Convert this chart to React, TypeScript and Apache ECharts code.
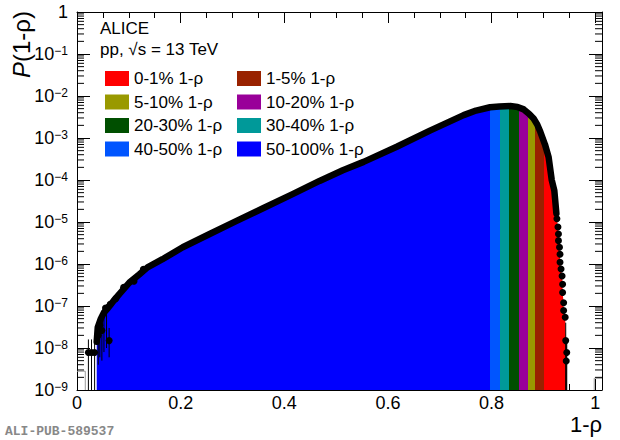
import React, { useEffect, useRef } from 'react';
import * as echarts from 'echarts';

// ---- data ----
// main body of the distribution (black band + filled histogram)
const bodyX = [0.038, 0.040, 0.046, 0.052, 0.059, 0.070, 0.082, 0.101, 0.120, 0.136, 0.165, 0.204, 0.255, 0.307, 0.358, 0.416, 0.468, 0.513, 0.553, 0.617, 0.681, 0.746, 0.770, 0.797, 0.815, 0.836, 0.850, 0.862, 0.872, 0.881, 0.888, 0.894, 0.903, 0.910, 0.916, 0.921, 0.925];
const bodyP = [1.4e-8, 3.1e-8, 5.0e-8, 7.0e-8, 8.7e-8, 1.3e-7, 1.95e-7, 3.6e-7, 5.6e-7, 8.3e-7, 1.3e-6, 2.5e-6, 5.1e-6, 1.05e-5, 2.1e-5, 4.6e-5, 9.5e-5, 1.7e-4, 2.7e-4, 6.2e-4, 1.5e-3, 3.5e-3, 4.5e-3, 5.4e-3, 5.6e-3, 5.75e-3, 5.5e-3, 4.8e-3, 3.8e-3, 2.9e-3, 2.1e-3, 1.4e-3, 7.0e-4, 3.5e-4, 1.0e-4, 5.6e-5, 1.6e-5];
// separated markers in the steep right tail
const tailX = [0.926, 0.928, 0.929, 0.929, 0.931, 0.932, 0.932, 0.934, 0.936, 0.937, 0.937, 0.939, 0.939, 0.942, 0.943, 0.945, 0.944];
const tailP = [1.2e-5, 7.6e-6, 5.2e-6, 3.6e-6, 2.5e-6, 1.7e-6, 1.1e-6, 7.6e-7, 5.2e-7, 3.3e-7, 2.1e-7, 1.2e-7, 7.8e-8, 5.4e-8, 1.5e-8, 7.8e-9, 4.9e-9];
// separated markers in the low left tail
const leftX = [0.022, 0.028, 0.034, 0.041, 0.044, 0.048, 0.055, 0.062, 0.064, 0.075, 0.090, 0.110, 0.128];
const leftP = [7.8e-9, 7.8e-9, 7.8e-9, 2.0e-8, 3.5e-8, 2.6e-8, 9.0e-8, 1.5e-8, 1.1e-7, 1.5e-7, 2.8e-7, 3.9e-7, 7.5e-7];
// error bars
const errX = [0.022, 0.028, 0.034, 0.041, 0.044, 0.048, 0.052, 0.057, 0.062, 0.943, 0.944, 0.945];
const errLo = [1e-9, 1e-9, 1e-9, 4e-9, 6e-9, 5e-9, 8e-9, 1.0e-8, 6e-9, 1e-9, 1e-9, 1e-9];
const errHi = [1.6e-8, 1.6e-8, 1.6e-8, 4e-8, 6e-8, 5e-8, 9e-8, 1.1e-7, 3e-8, 4e-8, 1.5e-8, 1.4e-8];
// faint grey histogram outline pieces
const greyLX = [0, 0.016, 0.016];
const greyLP = [2.8e-9, 2.8e-9, 1e-9];
const greyRX = [0.998, 0.998, 1.013];
const greyRP = [1e-9, 1.9e-9, 1.9e-9];

// percentile classes in 1-rho
const bandNames = ['0-1% 1-ρ', '1-5% 1-ρ', '5-10% 1-ρ', '10-20% 1-ρ', '20-30% 1-ρ', '30-40% 1-ρ', '40-50% 1-ρ', '50-100% 1-ρ'];
const bandColors = ['#ff0000', '#992200', '#999900', '#990099', '#004f00', '#009999', '#0055ff', '#0000ff'];
const bandLow = [0.902, 0.883, 0.871, 0.852, 0.834, 0.817, 0.796, null];
const bandHigh = [null, 0.902, 0.883, 0.871, 0.852, 0.834, 0.817, 0.796];
const legendCol1 = [0, 2, 4, 6];
const legendCol2 = [1, 3, 5, 7];

// axes
const X_MIN = 0;
const X_MAX = 1.013;
const Y_MIN = 1e-9;
const Y_MAX = 1;
const decadeExps = [-9, -8, -7, -6, -5, -4, -3, -2, -1];
const minorMult = [2, 3, 4, 5, 6, 7, 8, 9];

const FONT = '"Liberation Sans", Arial, Helvetica, sans-serif';

export default function App() {
  const ref = useRef<HTMLDivElement>(null);
  useEffect(() => {
    document.body.style.margin = '0';
    const chart = echarts.init(ref.current!, null, { renderer: 'svg' });

    const fillData = [...bodyX.map((x, i) => [x, bodyP[i]]), ...tailX.map((x, i) => [x, tailP[i]])];
    const dotData = [...leftX.map((x, i) => [x, leftP[i]]), ...tailX.map((x, i) => [x, tailP[i]])];
    const errData = errX.map((x, i) => [x, errLo[i], errHi[i]]);
    const minorData: number[][] = [];
    decadeExps.forEach((e) => minorMult.forEach((m) => minorData.push([X_MIN, m * Math.pow(10, e)])));

    const pieces = bandNames.map((n, i) => {
      const p: any = { color: bandColors[i] };
      if (bandLow[i] != null) p.gte = bandLow[i];
      if (bandHigh[i] != null) p.lt = bandHigh[i];
      return p;
    });

    const xCommon = {
      type: 'value',
      min: X_MIN,
      max: X_MAX,
      interval: 0.2,
      splitLine: { show: false },
      axisLine: { show: true, onZero: false, lineStyle: { color: '#000', width: 1 } },
      axisTick: { show: true, inside: true, length: 11, lineStyle: { color: '#000', width: 1 } },
      minorTick: { show: true, splitNumber: 4, length: 6, lineStyle: { color: '#000', width: 1 } },
    };
    const yCommon = {
      type: 'log',
      logBase: 10,
      min: Y_MIN,
      max: Y_MAX,
      interval: 1,
      splitNumber: 9,
      splitLine: { show: false },
      axisLine: { show: true, onZero: false, lineStyle: { color: '#000', width: 1 } },
      axisTick: { show: true, inside: true, length: 13, lineStyle: { color: '#000', width: 1 } },
      minorTick: { show: false },
    };

    const legendBase = {
      orient: 'vertical',
      top: 70,
      padding: 0,
      itemGap: 6.5,
      itemWidth: 24,
      itemHeight: 15,
      icon: 'rect',
      selectedMode: false,
      itemStyle: { opacity: 1 },
      textStyle: { fontSize: 17, fontFamily: FONT, color: '#000' },
    };

    const option: any = {
      animation: false,
      grid: { left: 77, right: 18, top: 12, bottom: 50 },
      xAxis: [
        {
          ...xCommon,
          position: 'bottom',
          axisLabel: {
            show: true,
            margin: 5.5,
            fontSize: 18,
            lineHeight: 14,
            fontFamily: FONT,
            color: '#000',
            showMaxLabel: false,
            formatter: (v: number) => {
              const r = v * 5;
              if (Math.abs(r - Math.round(r)) > 1e-6) return '';
              return String(+v.toFixed(1));
            },
          },
        },
        { ...xCommon, position: 'top', axisLabel: { show: false } },
      ],
      yAxis: [
        {
          ...yCommon,
          position: 'left',
          axisLabel: {
            show: true,
            margin: 9,
            formatter: (v: number) => {
              const e = Math.round(Math.log10(v));
              if (e === 0) return '{b|1}';
              return '{b|10}{s|−' + -e + '}';
            },
            rich: {
              b: { fontSize: 18, fontFamily: FONT, color: '#000' },
              s: { fontSize: 12, fontFamily: FONT, color: '#000', verticalAlign: 'top' },
            },
          },
        },
        { ...yCommon, position: 'right', axisLabel: { show: false } },
      ],
      visualMap: {
        type: 'piecewise',
        show: false,
        dimension: 0,
        seriesIndex: 0,
        pieces,
      },
      legend: [
        { ...legendBase, left: 105, data: legendCol1.map((i) => bandNames[i]) },
        { ...legendBase, left: 237, data: legendCol2.map((i) => bandNames[i]) },
      ],
      graphic: [
        { type: 'text', x: 100, y: 28, style: { text: 'ALICE', font: '17px ' + FONT, fill: '#000', verticalAlign: 'middle' } },
        { type: 'text', x: 100, y: 49, style: { text: 'pp, √s = 13 TeV', font: '17px ' + FONT, fill: '#000', verticalAlign: 'middle' } },
        {
          type: 'text', x: 21, y: 11, rotation: Math.PI / 2,
          style: {
            text: '{i|P}(1-ρ)', align: 'right', verticalAlign: 'middle',
            font: '24px ' + FONT, fill: '#000',
            rich: { i: { fontStyle: 'italic', fontSize: 24, fontFamily: FONT } },
          },
        },
        { type: 'text', x: 602, y: 424.5, style: { text: '1-ρ', align: 'right', verticalAlign: 'middle', font: '22px ' + FONT, fill: '#000' } },
        { type: 'text', x: 5, y: 431, style: { text: 'ALI-PUB-589537', verticalAlign: 'middle', font: 'bold 13px "Liberation Mono", "DejaVu Sans Mono", monospace', fill: '#888' } },
      ],
      series: [
        {
          type: 'line',
          name: 'fill',
          data: fillData,
          symbol: 'none',
          lineStyle: { width: 0 },
          areaStyle: { opacity: 1, origin: 'start' },
          silent: true,
          z: 1,
        },
        {
          type: 'line',
          name: 'body',
          data: bodyX.map((x, i) => [x, bodyP[i]]),
          symbol: 'none',
          lineStyle: { color: '#000', width: 6.5, join: 'round', cap: 'round' },
          silent: true,
          z: 3,
        },
        {
          type: 'scatter',
          name: 'points',
          data: dotData,
          symbol: 'circle',
          symbolSize: 7,
          itemStyle: { color: '#000', opacity: 1 },
          silent: true,
          z: 4,
        },
        {
          type: 'custom',
          name: 'errors',
          data: errData,
          encode: { x: 0, y: [1, 2] },
          silent: true,
          z: 3,
          renderItem: (params: any, api: any) => {
            const p1 = api.coord([api.value(0), api.value(1)]);
            const p2 = api.coord([api.value(0), api.value(2)]);
            return { type: 'line', shape: { x1: p1[0], y1: p1[1], x2: p2[0], y2: p2[1] }, style: { stroke: '#000', lineWidth: 1 } };
          },
        },
        {
          type: 'custom',
          name: 'minorTicks',
          data: minorData,
          encode: { x: 0, y: 1 },
          silent: true,
          z: 5,
          renderItem: (params: any, api: any) => {
            const v = api.value(1);
            const pl = api.coord([X_MIN, v]);
            const pr = api.coord([X_MAX, v]);
            return {
              type: 'group',
              children: [
                { type: 'line', shape: { x1: pl[0], y1: pl[1], x2: pl[0] + 7, y2: pl[1] }, style: { stroke: '#000', lineWidth: 1 } },
                { type: 'line', shape: { x1: pr[0], y1: pr[1], x2: pr[0] - 7, y2: pr[1] }, style: { stroke: '#000', lineWidth: 1 } },
              ],
            };
          },
        },
        {
          type: 'line', name: 'greyL', data: greyLX.map((x, i) => [x, greyLP[i]]), symbol: 'none',
          lineStyle: { color: '#999', width: 1 }, silent: true, z: 2,
        },
        {
          type: 'line', name: 'greyR', data: greyRX.map((x, i) => [x, greyRP[i]]), symbol: 'none',
          lineStyle: { color: '#999', width: 1 }, silent: true, z: 2,
        },
        ...bandNames.map((n, i) => ({
          type: 'scatter',
          name: n,
          data: [],
          itemStyle: { color: bandColors[i], opacity: 1 },
        })),
      ],
    };
    chart.setOption(option);
    return () => chart.dispose();
  }, []);
  return <div ref={ref} style={{ width: 620, height: 440 }} />;
}
